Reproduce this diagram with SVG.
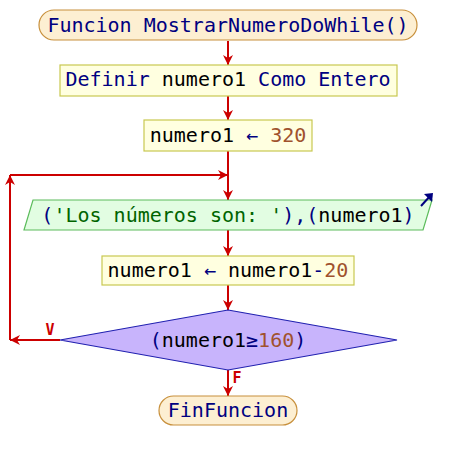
<svg xmlns="http://www.w3.org/2000/svg" width="456" height="460" viewBox="0 0 456 460">
<style>
text{font-family:"DejaVu Sans Mono","Liberation Mono",monospace;font-size:20px;text-anchor:middle;fill:#000}
.kw{fill:#000080}
.num{fill:#a0522d}
.str{fill:#006400}
.term{fill:#fdefd2;stroke:#c8903c;stroke-width:1.2}
.proc{fill:#ffffe0;stroke:#c8c850;stroke-width:1.2}
.io{fill:#e2fde2;stroke:#5cbc5c;stroke-width:1.2}
.dec{fill:#c8b4fc;stroke:#2020b0;stroke-width:1.2}
.ln{stroke:#cc0000;stroke-width:2;fill:none}
.lbl{fill:#cc0000;font-size:15px;font-weight:bold}
</style>
<defs>
<marker id="ah" viewBox="0 0 10 10" refX="10" refY="5" markerWidth="10" markerHeight="10" markerUnits="userSpaceOnUse" orient="auto">
<path d="M0,0 L10,5 L0,10 L3,5 Z" fill="#cc0000"/>
</marker>
</defs>
<g id="connectors">
<line class="ln" x1="228" y1="41" x2="228" y2="65" marker-end="url(#ah)"/>
<line class="ln" x1="228" y1="96" x2="228" y2="120" marker-end="url(#ah)"/>
<line class="ln" x1="228" y1="151" x2="228" y2="200" marker-end="url(#ah)"/>
<line class="ln" x1="228" y1="230" x2="228" y2="256" marker-end="url(#ah)"/>
<line class="ln" x1="228" y1="285" x2="228" y2="310" marker-end="url(#ah)"/>
<line class="ln" x1="228" y1="370" x2="228" y2="396" marker-end="url(#ah)"/>
<line class="ln" x1="60" y1="340" x2="10" y2="340" marker-end="url(#ah)"/>
<line class="ln" x1="10" y1="340" x2="10" y2="175" marker-end="url(#ah)"/>
<line class="ln" x1="10" y1="175" x2="228" y2="175" marker-end="url(#ah)"/>
<text class="lbl" x="50" y="335">V</text>
<text class="lbl" x="237" y="383">F</text>
</g>
<g id="start">
<rect class="term" x="39" y="10" width="378" height="30" rx="15"/>
<text x="228" y="32"><tspan class="kw">Funcion MostrarNumeroDoWhile()</tspan></text>
</g>
<g id="define">
<rect class="proc" x="60" y="65" width="337" height="31"/>
<text x="228" y="86"><tspan class="kw">Definir</tspan> numero1 <tspan class="kw">Como Entero</tspan></text>
</g>
<g id="assign1">
<rect class="proc" x="144" y="120" width="168" height="31"/>
<text x="228" y="142">numero1 <tspan class="kw">←</tspan> <tspan class="num">320</tspan></text>
</g>
<g id="output">
<polygon class="io" points="33,200 432,200 423,230 24,230"/>
<text x="228" y="222"><tspan class="kw">(</tspan><tspan class="str">'Los números son: '</tspan><tspan class="kw">),(</tspan>numero1<tspan class="kw">)</tspan></text>
<line x1="421" y1="206" x2="431" y2="195" stroke="#000080" stroke-width="2"/>
<path d="M424,194 L433,193 L432,202 Z" fill="#000080"/>
</g>
<g id="assign2">
<rect class="proc" x="102" y="256" width="252" height="29"/>
<text x="228" y="277">numero1 <tspan class="kw">←</tspan> numero1<tspan class="kw">-</tspan><tspan class="num">20</tspan></text>
</g>
<g id="cond">
<polygon class="dec" points="228,310 397,340 228,370 60,340"/>
<text x="228" y="347"><tspan class="kw">(</tspan>numero1<tspan class="kw">≥</tspan><tspan class="num">160</tspan><tspan class="kw">)</tspan></text>
</g>
<g id="end">
<rect class="term" x="159" y="396" width="138" height="29" rx="14.5"/>
<text x="228" y="417"><tspan class="kw">FinFuncion</tspan></text>
</g>
</svg>
